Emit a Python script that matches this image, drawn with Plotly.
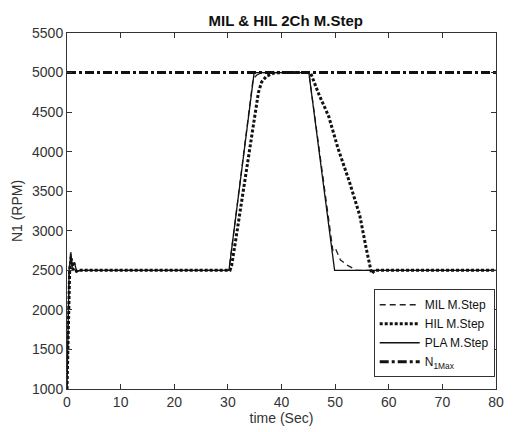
import plotly.graph_objects as go

# --- data ---
pla_t = [0, 0.4, 0.7, 1.0, 1.4, 1.8, 2.4, 30.2, 34.9, 45.1, 49.9, 80]
pla_v = [1000, 2500, 2700, 2550, 2600, 2480, 2500, 2500, 5000, 5000, 2500, 2500]

mil_t = [0, 0.4, 0.7, 1.0, 1.4, 1.8, 2.4, 30.2, 34.7, 35.5, 36.5, 45.1, 49.6, 50.1, 51.0, 52.4, 54.0, 80]
mil_v = [1000, 2500, 2750, 2520, 2600, 2490, 2500, 2500, 4920, 4975, 5000, 5000, 2740, 2770, 2630, 2560, 2500, 2500]

hil_t = [0, 0.2, 0.5, 0.8, 1.1, 1.5, 2.0, 30.4, 30.7, 31.5, 32.5, 33.4, 34.5, 35.2, 35.7, 36.3, 37.2, 38.7, 40.0,
         45.4, 47.0, 48.8, 50.5, 52.7, 54.6, 55.8, 56.5, 56.8, 57.4, 80]
hil_v = [1000, 1800, 2500, 2650, 2520, 2480, 2500, 2500, 2560, 2900, 3330, 3750, 4230, 4550, 4750, 4880, 4955, 4995, 5000,
         5000, 4720, 4447, 4050, 3611, 3193, 2776, 2525, 2460, 2500, 2500]

nmax_t = [0, 80]
nmax_v = [5000, 5000]

x_ticks = [0, 10, 20, 30, 40, 50, 60, 70, 80]
y_ticks = [1000, 1500, 2000, 2500, 3000, 3500, 4000, 4500, 5000, 5500]

FONT = "Liberation Sans, Arial"

fig = go.Figure()
fig.add_trace(go.Scatter(x=mil_t, y=mil_v, mode="lines", name="MIL M.Step",
                         line=dict(color="#222", width=1.3, dash="6px,4px")))
fig.add_trace(go.Scatter(x=hil_t, y=hil_v, mode="lines", name="HIL M.Step",
                         line=dict(color="#111", width=3, dash="3px,2px")))
fig.add_trace(go.Scatter(x=pla_t, y=pla_v, mode="lines", name="PLA M.Step",
                         line=dict(color="#111", width=1.3)))
fig.add_trace(go.Scatter(x=nmax_t, y=nmax_v, mode="lines", name="N<sub>1Max</sub>",
                         line=dict(color="#111", width=3, dash="9px,3px,3px,3px")))

axis_common = dict(showline=True, mirror="ticks", linecolor="#333", linewidth=1,
                   ticks="inside", ticklen=5, tickcolor="#333", showgrid=False, zeroline=False,
                   tickfont=dict(family=FONT, size=14, color="#333"))

fig.update_layout(
    width=513, height=432,
    margin=dict(l=67, r=9, t=33, b=40),
    plot_bgcolor="white", paper_bgcolor="white",
    title=dict(text="<b>MIL & HIL 2Ch M.Step</b>", x=0.557, xanchor="center", y=0.953, yanchor="middle",
               font=dict(family=FONT, size=15, color="#111")),
    xaxis=dict(range=[0, 80], tickvals=x_ticks,
               title=dict(text="time (Sec)", standoff=3, font=dict(family=FONT, size=14, color="#333")),
               **axis_common),
    yaxis=dict(range=[1000, 5500], tickvals=y_ticks,
               title=dict(text="N1 (RPM)", standoff=6, font=dict(family=FONT, size=14, color="#333")),
               **axis_common),
    legend=dict(x=0.997, xanchor="right", y=0.033, yanchor="bottom",
                bgcolor="white", bordercolor="#333", borderwidth=1,
                font=dict(family=FONT, size=12, color="#111"),
                tracegroupgap=0, itemwidth=40),
    showlegend=True,
)

fig.write_html("out.html")
